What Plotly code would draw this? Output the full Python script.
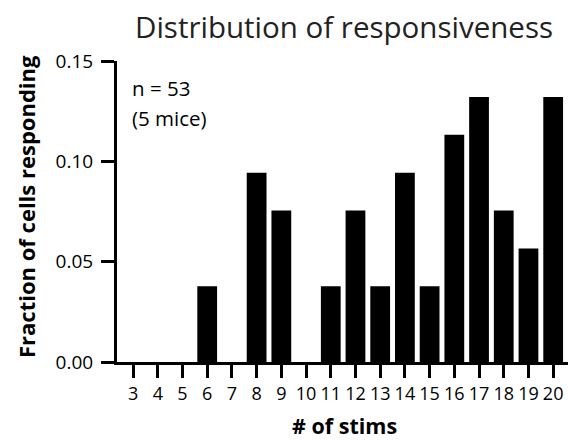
import plotly.graph_objects as go

# Number of stimulations and count of responding cells at each
stims = [3, 4, 5, 6, 7, 8, 9, 10, 11, 12, 13, 14, 15, 16, 17, 18, 19, 20]
counts = [0, 0, 0, 2, 0, 5, 4, 0, 2, 4, 2, 5, 2, 6, 7, 4, 3, 7]
n_cells = sum(counts)  # 53
fractions = [c / n_cells for c in counts]

y_ticks = [0.0, 0.05, 0.10, 0.15]
y_tick_text = ["0.00", "0.05", "0.10", "0.15"]

FONT = "Open Sans"

fig = go.Figure()
fig.add_trace(go.Bar(
    x=stims, y=fractions, width=0.8,
    marker=dict(color="black", line=dict(width=0)),
))

fig.update_layout(
    width=568, height=440,
    margin=dict(l=117, r=0, t=61, b=78),
    plot_bgcolor="white", paper_bgcolor="white",
    showlegend=False,
    font=dict(family=FONT, color="black", size=18),
    bargap=0.2,
)

fig.update_xaxes(
    range=[2.35, 20.6], tickmode="array", tickvals=stims,
    ticktext=[str(s) for s in stims],
    showline=True, linecolor="black", linewidth=3,
    ticks="outside", ticklen=13, tickwidth=3, tickcolor="black",
    showgrid=False, zeroline=False,
    tickfont=dict(family=FONT, size=18, color="black"),
)
fig.update_yaxes(
    range=[0, 0.15], tickmode="array", tickvals=y_ticks, ticktext=y_tick_text,
    showline=True, linecolor="black", linewidth=3,
    ticks="outside", ticklen=13, tickwidth=3, tickcolor="black",
    ticklabelstandoff=4,
    showgrid=False, zeroline=False,
    tickfont=dict(family=FONT, size=19, color="black"),
)

annotations = [
    dict(text="Distribution of responsiveness", x=344, y=440 - 27,
         showarrow=False,
         font=dict(family=FONT, size=29.5, color="#222222")),
    dict(text="<b>Fraction of cells responding</b>", x=26, y=440 - 207,
         textangle=-90, showarrow=False,
         font=dict(family=FONT, size=22, color="black")),
    dict(text="<b># of stims</b>", x=344, y=440 - 425, showarrow=False,
         font=dict(family=FONT, size=21.5, color="black")),
    dict(text="n = 53", x=130, y=440 - 88, xanchor="left", showarrow=False,
         font=dict(family=FONT, size=20.5, color="black")),
    dict(text="(5 mice)", x=130, y=440 - 118, xanchor="left", showarrow=False,
         font=dict(family=FONT, size=20.5, color="black")),
]
# position annotations in pixel units of the full figure
for a in annotations:
    a["xref"] = "paper"
    a["yref"] = "paper"
    a["x"] = (a["x"] - 117) / (568 - 117)
    a["y"] = (a["y"] - 78) / (440 - 61 - 78)
    a["xanchor"] = a.get("xanchor", "center")
    a["yanchor"] = "middle"
fig.update_layout(annotations=annotations)

fig.write_html("out.html")
